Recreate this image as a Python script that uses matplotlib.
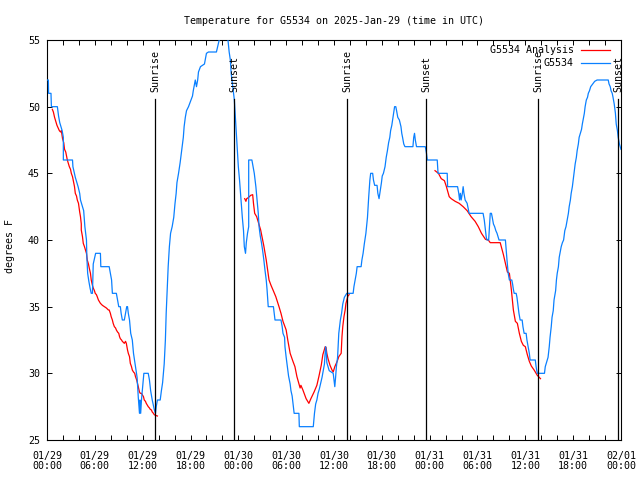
import matplotlib
matplotlib.use("Agg")
import matplotlib.pyplot as plt
from matplotlib.lines import Line2D
import numpy as np

# ---- data (time in hours since 2025-01-29 00:00 UTC, temperature in F) ----
obs_t = [0.0, 0.17, 0.2, 0.5, 0.55, 1.3, 1.45, 1.6, 1.9, 2.05, 2.05, 3.2, 3.25, 3.55, 3.9, 4.1, 4.2, 4.6,
         4.75, 4.95, 5.0, 5.1, 5.25, 5.4, 5.55, 5.7, 5.8, 5.95, 6.1, 6.7, 6.75, 7.8, 7.95, 8.1, 8.2, 8.7,
         8.85, 9.0, 9.2, 9.3, 9.45, 9.7, 9.85, 10.0, 10.1, 10.2, 10.35, 10.5, 10.7, 10.85, 11.1, 11.3,
         11.45, 11.6, 11.65, 11.75, 11.85, 12.0, 12.15, 12.7, 12.85, 13.0, 13.2, 13.45, 13.6, 13.7,
         13.85, 14.2, 14.35, 14.5, 14.7, 14.85, 14.95, 15.2, 15.35, 15.5, 15.7, 15.9, 16.05, 16.2, 16.3,
         16.5, 16.7, 16.85, 16.95, 17.1, 17.2, 17.35, 17.5, 17.75, 18.0, 18.25, 18.35, 18.6, 18.75, 18.9,
         19.0, 19.25, 19.75, 20.0, 20.25, 21.25, 21.4, 21.6, 21.8, 22.5, 22.7, 22.85, 23.0, 23.1, 23.3,
         23.5, 23.6, 23.8, 23.9, 24.0, 24.15, 24.3, 24.4, 24.5, 24.65, 24.75, 24.9, 25.0, 25.15, 25.3,
         25.3, 25.7, 25.85, 26.0, 26.1, 26.2, 26.35, 26.5, 26.6, 26.75, 26.9, 27.05, 27.2, 27.35, 27.5,
         27.6, 27.75, 28.4, 28.5, 28.6, 29.35, 29.5, 29.6, 29.8, 29.85, 30.0, 30.15, 30.3, 30.5, 30.6,
         30.75, 31.0, 31.6, 31.65, 33.4, 33.55, 33.7, 33.85, 34.0, 34.15, 34.3, 34.5, 34.65, 34.8, 34.95,
         35.05, 35.1, 35.25, 35.4, 35.9, 36.0, 36.1, 36.2, 36.3, 36.45, 36.6, 36.8, 36.95, 37.1, 37.3,
         37.6, 38.4, 38.5, 38.65, 38.8, 38.9, 39.4, 39.5, 39.65, 39.8, 40.0, 40.2, 40.35, 40.5, 40.6,
         40.85, 40.95, 41.1, 41.4, 41.5, 41.65, 41.8, 41.95, 42.05, 42.2, 42.4, 42.55, 42.7, 42.85, 43.0,
         43.1, 43.25, 43.4, 43.6, 43.75, 43.85, 44.0, 44.2, 44.4, 44.5, 44.6, 44.75, 44.9, 45.9, 46.0,
         46.1, 46.2, 46.35, 47.45, 47.6, 47.7, 48.95, 49.05, 50.2, 50.25, 51.5, 51.65, 51.75, 51.85,
         51.95, 52.1, 52.2, 52.3, 52.45, 52.7, 52.95, 54.7, 54.85, 55.0, 55.1, 55.2, 55.4, 55.5, 55.6,
         55.75, 55.85, 56.0, 56.15, 56.3, 56.45, 56.6, 56.7, 57.5, 57.6, 57.7, 57.85, 58.0, 58.3, 58.4,
         58.5, 58.6, 58.85, 58.95, 59.1, 59.2, 59.35, 59.6, 59.7, 59.85, 60.1, 60.2, 60.35, 60.5, 60.6,
         61.25, 61.35, 61.5, 62.4, 62.5, 62.6, 62.75, 62.85, 63.0, 63.1, 63.25, 63.35, 63.5, 63.6, 63.8,
         63.9, 64.0, 64.15, 64.25, 64.4, 64.5, 64.65, 64.8, 64.95, 65.1, 65.25, 65.4, 65.5, 65.65, 65.75,
         65.9, 66.0, 66.1, 66.25, 66.4, 66.5, 66.65, 66.75, 66.9, 67.05, 67.15, 67.3, 67.4, 67.5, 67.65,
         67.8, 67.9, 68.05, 68.2, 68.45, 68.7, 69.0, 70.4, 70.5, 70.65, 70.75, 70.9, 71.0, 71.15, 71.3,
         71.4, 71.55, 71.65, 71.8, 71.9, 72.0]
obs_v = [52.0, 52.0, 51.0, 51.0, 50.0, 50.0, 49.3, 48.8, 48.2, 47.7, 46.0, 46.0, 45.5, 44.7, 44.0, 43.5, 43.0, 42.2,
         41.0, 40.0, 38.7, 37.5, 36.9, 36.4, 36.0, 36.0, 38.2, 38.6, 39.0, 39.0, 38.0, 38.0, 37.5, 37.0, 36.0, 36.0,
         35.5, 35.0, 35.0, 34.5, 34.0, 34.0, 34.5, 35.0, 35.0, 34.5, 34.0, 33.0, 32.5, 31.5, 30.5, 29.7,
         28.2, 27.0, 28.0, 27.0, 28.0, 29.0, 30.0, 30.0, 29.5, 28.7, 28.0, 27.3, 27.0, 27.5,
         28.0, 28.0, 28.7, 29.3, 30.7, 32.5, 34.5, 38.0, 39.5, 40.5, 41.0, 41.7, 42.7, 43.5, 44.3,
         45.0, 45.8, 46.5, 47.0, 47.7, 48.5, 49.2, 49.7, 50.0, 50.4, 50.8, 51.2, 52.0, 51.5, 52.0,
         52.6, 53.0, 53.2, 54.0, 54.1, 54.1, 54.5, 55.0, 55.5, 55.5, 55.0, 54.1, 53.5, 52.5, 51.5,
         50.5, 49.5, 47.5, 46.5, 45.5, 44.5, 43.3, 42.5, 41.7, 40.7, 39.5, 39.0, 39.8, 40.5, 41.0,
         46.0, 46.0, 45.5, 45.0, 44.5, 44.0, 43.0, 42.0, 41.0, 40.3, 39.8, 39.2, 38.5, 37.7, 37.0,
         36.3, 35.0, 35.0, 34.5, 34.0, 34.0, 33.5, 33.0, 32.7, 32.0, 31.2, 30.5, 29.8, 29.2, 28.7,
         28.3, 27.0, 27.0, 26.0, 26.0, 27.0, 27.7, 28.0, 28.5, 28.8, 29.2, 29.7, 30.2, 30.7, 32.0,
         31.5, 30.8, 30.5, 30.2, 30.0, 29.5, 29.0, 29.7, 30.5, 31.2, 33.0, 34.0, 34.5, 35.2, 35.7,
         36.0, 36.0, 36.5, 37.0, 37.5, 38.0, 38.0, 38.5, 39.0, 39.7, 40.5, 41.7, 43.2, 44.5, 45.0,
         45.0, 44.5, 44.1, 44.1, 43.5, 43.1, 43.7, 44.3, 44.8, 45.0, 45.5, 46.2, 46.7, 47.3, 47.7,
         48.2, 48.6, 49.2, 50.0, 50.0, 49.7, 49.2, 49.0, 48.5, 48.0, 47.7, 47.2, 47.0, 47.0, 47.7,
         48.0, 47.5, 47.0, 47.0, 46.5, 46.0, 46.0, 45.0, 45.0, 44.0, 44.0, 43.5, 43.0, 43.5,
         43.0, 43.5, 44.0, 43.5, 43.0, 42.75, 42.0, 42.0, 41.5, 40.7, 40.2, 40.0, 40.0, 41.0, 42.0,
         42.0, 41.7, 41.2, 41.0, 40.7, 40.5, 40.2, 40.0, 40.0, 39.2, 38.5, 37.5, 37.0, 37.0, 36.7,
         36.3, 36.0, 36.0, 35.7, 35.0, 34.5, 34.0, 34.0, 33.5, 33.0, 33.0, 32.5, 32.0, 31.5, 31.0,
         31.0, 30.5, 30.0, 30.0, 30.5, 30.7, 31.0, 31.2, 32.0, 32.7, 33.5, 34.2, 34.7, 35.5, 36.2,
         37.0, 37.5, 38.0, 38.7, 39.2, 39.5, 39.8, 40.0, 40.7, 41.0, 41.5, 42.0, 42.5, 43.0, 43.5,
         44.0, 44.5, 45.0, 45.7, 46.2, 46.7, 47.2, 47.7, 48.0, 48.3, 48.7, 49.2, 49.5, 50.0, 50.5,
         50.7, 51.0, 51.2, 51.5, 51.7, 51.9, 52.0, 52.0, 51.7, 51.5, 51.2, 51.0, 50.7, 50.2, 49.5,
         48.7, 48.2, 47.7, 47.2, 47.0, 46.8]

ana1_t = [0.67, 0.8, 0.95, 1.1, 1.25, 1.4, 1.55, 1.7, 1.8, 1.95, 2.1, 2.2, 2.35, 2.55, 2.65, 2.8, 2.95, 3.05,
          3.2, 3.35, 3.45, 3.55, 3.7, 3.8, 3.95, 4.1, 4.2, 4.3, 4.3, 4.45, 4.55, 4.7, 4.85, 4.95, 5.05, 5.2,
          5.3, 5.45, 5.55, 5.7, 5.8, 5.95, 6.05, 6.2, 6.3, 6.45, 6.55, 6.7, 6.95, 7.2, 7.45, 7.7, 7.8, 7.95,
          8.05, 8.2, 8.3, 8.45, 8.6, 8.7, 8.85, 9.0, 9.1, 9.2, 9.35, 9.45, 9.7, 9.85, 9.95, 10.1, 10.2,
          10.35, 10.45, 10.6, 10.7, 10.85, 11.0, 11.1, 11.25, 11.35, 11.45, 11.6, 11.7, 11.85, 11.95, 12.1,
          12.2, 12.35, 12.45, 12.6, 12.7, 12.85, 12.95, 13.1, 13.2, 13.35, 13.45, 13.6, 13.85]
ana1_v = [49.8, 49.6, 49.2, 48.9, 48.6, 48.4, 48.2, 48.1, 48.2, 47.6, 47.3, 46.8, 46.6, 46.0, 45.8, 45.5, 45.3, 45.0,
          44.75, 44.3, 44.0, 43.5, 43.3, 43.0, 42.75, 42.1, 41.75, 41.2, 40.75, 40.25, 39.75, 39.5, 39.2, 39.0, 38.5, 38.2,
          37.9, 37.5, 37.0, 36.6, 36.4, 36.2, 36.0, 35.9, 35.75, 35.5, 35.4, 35.25, 35.1, 35.0, 34.9, 34.75, 34.75, 34.5,
          34.25, 34.0, 33.75, 33.5, 33.4, 33.25, 33.1, 33.0, 32.75, 32.6, 32.5, 32.4, 32.25, 32.4, 32.25, 31.75, 31.5,
          31.25, 30.75, 30.5, 30.25, 30.1, 30.0, 29.75, 29.5, 29.25, 29.0, 28.6, 28.5, 28.5, 28.4, 28.25,
          28.0, 27.9, 27.75, 27.6, 27.5, 27.4, 27.3, 27.25, 27.1, 27.0, 26.9, 26.85, 26.8]

ana2_t = [24.8, 24.95, 25.05, 25.3, 25.55, 25.8, 25.9, 26.05, 26.3, 26.55, 26.8, 27.05, 27.2, 27.5, 27.85, 28.1,
          28.35, 28.7, 29.1, 29.35, 29.6, 30.0, 30.2, 30.5, 30.85, 31.1, 31.35, 31.75, 31.85, 32.1, 32.5,
          32.85, 33.1, 33.5, 33.85, 34.1, 34.4, 34.6, 34.9, 35.0, 35.1, 35.25, 35.5, 35.75, 35.9, 36.1,
          36.4, 36.6, 36.9, 37.0, 37.1, 37.25, 37.4, 37.5, 37.75, 37.9]
ana2_v = [43.1, 42.9, 43.1, 43.2, 43.35, 43.4, 42.75, 42.0, 41.75, 41.25, 40.75, 40.0, 39.55, 38.5, 37.0, 36.6,
          36.25, 35.75, 35.0, 34.5, 33.9, 33.25, 32.5, 31.5, 30.9, 30.5, 29.75, 28.9, 29.1, 28.75, 28.1,
          27.75, 28.1, 28.6, 29.1, 29.75, 30.6, 31.4, 32.0, 31.95, 31.5, 31.1, 30.6, 30.25, 30.1, 30.5,
          30.9, 31.25, 31.5, 32.75, 33.5, 34.25, 34.75, 35.25, 35.8, 35.9]

ana3_t = [48.67, 49.1, 49.45, 49.85, 50.1, 50.45, 50.7, 51.2, 51.7, 52.2, 52.7, 53.2, 53.7, 54.1, 54.5, 55.0,
          55.35, 55.6, 56.85, 57.25, 57.75, 58.0, 58.25, 58.5, 58.75, 59.0, 59.25, 59.5, 59.75, 60.0, 60.25,
          60.5, 60.75, 61.1, 61.5, 61.9]
ana3_v = [45.2, 45.0, 44.6, 44.45, 44.0, 43.25, 43.1, 42.9, 42.75, 42.5, 42.2, 41.75, 41.4, 41.0, 40.5, 40.05,
          40.0, 39.8, 39.8, 38.9, 37.6, 37.5, 36.25, 34.75, 33.9, 33.75, 33.0, 32.4, 32.1, 32.0, 31.4,
          30.9, 30.55, 30.25, 29.85, 29.6]

sun_labels = ["Sunrise", "Sunset", "Sunrise", "Sunset", "Sunrise", "Sunset"]
sun_times = [13.6, 23.5, 37.67, 47.58, 61.63, 71.67]

x_tick_hours = list(range(0, 73, 6))
x_tick_labels = ["01/29\n00:00", "01/29\n06:00", "01/29\n12:00", "01/29\n18:00",
                 "01/30\n00:00", "01/30\n06:00", "01/30\n12:00", "01/30\n18:00",
                 "01/31\n00:00", "01/31\n06:00", "01/31\n12:00", "01/31\n18:00",
                 "02/01\n00:00"]
y_ticks = [25, 30, 35, 40, 45, 50, 55]

# ---- figure ----
FONT = "DejaVu Sans Mono"
FS = 7.2
plt.rcParams["font.family"] = FONT
plt.rcParams["font.size"] = FS

fig = plt.figure(figsize=(6.4, 4.8), dpi=100)
ax = fig.add_axes([47/640, 40/480, 574/640, 400/480])

RED = "#ff0000"
BLUE = "#0a80ff"

for tt, vv in [(ana1_t, ana1_v), (ana2_t, ana2_v), (ana3_t, ana3_v)]:
    ax.plot(tt, vv, color=RED, lw=0.9, zorder=2)
ax.plot(obs_t, obs_v, color=BLUE, lw=0.9, zorder=3)

line_top = 50.6
for lab, st in zip(sun_labels, sun_times):
    ax.plot([st, st], [25, line_top], color="black", lw=0.9, zorder=4)
    ax.text(st, 51.1, lab, rotation=90, ha="center", va="bottom",
            fontsize=FS, clip_on=False, zorder=5, linespacing=1.0)

ax.set_xlim(0, 72)
ax.set_ylim(25, 55)
ax.set_xticks(x_tick_hours)
ax.set_xticklabels(x_tick_labels, linespacing=1.0)
ax.set_xticks(np.arange(0, 73, 2), minor=True)
ax.set_yticks(y_ticks)
ax.set_yticklabels([str(v) for v in y_ticks])
ax.tick_params(axis="both", which="both", direction="in", top=True, right=True,
               length=3.6, width=0.7, labelsize=FS)
ax.tick_params(axis="x", which="major", pad=8)
ax.tick_params(axis="y", which="major", pad=5)
for s in ax.spines.values():
    s.set_linewidth(0.8)

# legend (manual, gnuplot style)
ax.text(0.918, 0.975, "G5534 Analysis", transform=ax.transAxes, ha="right", va="center", fontsize=FS)
ax.text(0.918, 0.9425, "G5534", transform=ax.transAxes, ha="right", va="center", fontsize=FS)
ax.add_line(Line2D([0.930, 0.981], [0.975, 0.975], transform=ax.transAxes, color=RED, lw=0.9))
ax.add_line(Line2D([0.930, 0.981], [0.9425, 0.9425], transform=ax.transAxes, color=BLUE, lw=0.9))

fig.text(334/640, 1 - 21/480, "Temperature for G5534 on 2025-Jan-29 (time in UTC)",
         ha="center", va="center", fontsize=FS)
fig.text(10/640, 1 - 246/480, "degrees F", rotation=90, ha="center", va="center", fontsize=FS)

fig.savefig("out.png", dpi=100)
